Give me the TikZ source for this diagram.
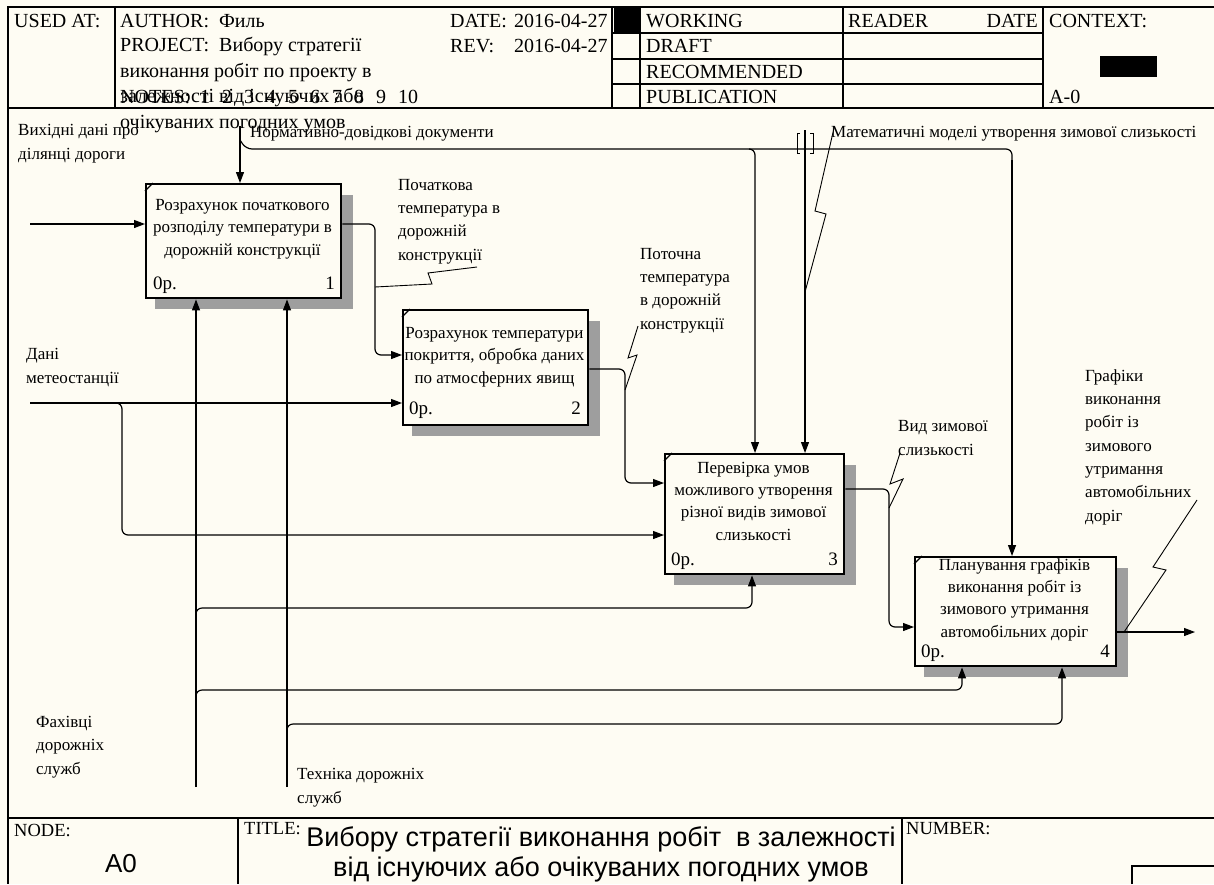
\documentclass[tikz,border=0pt]{standalone}
\usepackage{fontspec}
\setmainfont{Liberation Serif}
\newfontfamily\arialf{Liberation Sans}
\usetikzlibrary{arrows.meta}
\definecolor{bgc}{RGB}{254,252,243}
\begin{document}
\begin{tikzpicture}[x=1pt,y=-1pt,
 frame/.style={line width=1.4pt},
 conn/.style={line width=1.2pt, rounded corners=6pt},
 arr/.style={conn, -{Triangle[length=11pt,width=8pt]}},
 lead/.style={line width=0.9pt},
 box/.style={draw, line width=2.4pt, fill=bgc, rectangle, inner sep=0, anchor=north west},
 shad/.style={fill=black!38},
 tick/.style={line width=1.3pt},
 lbl/.style={font=\fontsize{17}{23.3}\selectfont, align=left, anchor=base west, inner sep=0},
 btxt/.style={font=\fontsize{17}{22.3}\selectfont, align=center, anchor=base, inner sep=0},
 bnum/.style={font=\fontsize{19}{22}\selectfont, inner sep=0},
 hdr/.style={font=\fontsize{20}{25.5}\selectfont, anchor=base west, inner sep=0, align=left},
 small/.style={font=\fontsize{18.5}{20}\selectfont, anchor=base west, inner sep=0},
]
\useasboundingbox (0,0) rectangle (1214,884);
\fill[bgc] (0,0) rectangle (1214,884);
% ---- frame ----
\draw[frame] (1214,7) -- (8,7) -- (8,884);
\draw[frame] (8,108) -- (1214,108);
\draw[frame] (8,818) -- (1214,818);
\draw[frame] (115,7) -- (115,108);
\draw[frame] (612,7) -- (612,108);
\draw[frame] (640,7) -- (640,108);
\draw[frame] (843,7) -- (843,108);
\draw[frame] (1043,7) -- (1043,108);
\draw[frame] (612,33) -- (1043,33);
\draw[frame] (612,59) -- (1043,59);
\draw[frame] (612,84) -- (1043,84);
\draw[frame] (238,818) -- (238,884);
\draw[frame] (902,818) -- (902,884);
\draw[frame] (1132,884) -- (1132,866) -- (1214,866);
\fill[black] (614,8) rectangle (640,33);
\fill[black] (1100,56) rectangle (1157,77);
% ---- header text ----
\node[hdr] (usedat) at (14,27) {USED AT:};
\node[hdr] (author) at (120,27) {AUTHOR:\ \ Филь};
\node[hdr] (project) at (120,128) {PROJECT:\ \ Вибору стратегії\\виконання робіт по проекту в\\залежності від існуючих або\\очікуваних погодних умов};
\node[hdr] (notes) at (120,103) {NOTES:\hspace{10pt}1\hspace{12pt}2\hspace{12pt}3\hspace{12pt}4\hspace{12pt}5\hspace{12pt}6\hspace{12pt}7\hspace{12pt}8\hspace{12pt}9\hspace{12pt}10};
\node[hdr] (date) at (450,27) {DATE:};
\node[hdr] (dateval) at (514,27) {2016-04-27};
\node[hdr] (rev) at (450,52) {REV:};
\node[hdr] (revval) at (514,52) {2016-04-27};
\node[hdr] (working) at (646,27) {WORKING};
\node[hdr] (draft) at (646,52) {DRAFT};
\node[hdr] (recom) at (646,78) {RECOMMENDED};
\node[hdr] (publ) at (646,103) {PUBLICATION};
\node[hdr] (reader) at (848,27) {READER};
\node[hdr, anchor=base east] (rdate) at (1038,27) {DATE};
\node[hdr] (context) at (1049,27) {CONTEXT:};
\node[hdr] (azero) at (1049,103) {A-0};
% ---- bottom ----
\node[small] (nodel) at (14,836) {NODE:};
\node[font=\arialf\fontsize{26}{30}\selectfont, anchor=base, inner sep=0] (nodeval) at (121,872) {A0};
\node[small] (titlel) at (244,834) {TITLE:};
\node[font=\arialf\fontsize{27}{30}\selectfont, align=center, anchor=base, inner sep=0] (title) at (601,876) {Вибору стратегії виконання робіт\ \ в залежності\\від існуючих або очікуваних погодних умов};
\node[small] (numberl) at (906,834) {NUMBER:};
% ---- shadows ----
\fill[shad] (155,195) rectangle (353,309);
\fill[shad] (412,321) rectangle (600,436);
\fill[shad] (674,465) rectangle (856,585);
\fill[shad] (924,568) rectangle (1128,677);
% ---- boxes ----
\node[box, minimum width=195pt, minimum height=114pt] (b1) at (145,183) {};
\node[box, minimum width=185pt, minimum height=115pt] (b2) at (402,309) {};
\node[box, minimum width=179pt, minimum height=120pt] (b3) at (664,453) {};
\node[box, minimum width=201pt, minimum height=109pt] (b4) at (914,556) {};
\foreach \b in {b1,b2,b3,b4}{
  \draw[tick] ([yshift=-8pt]\b.north west) -- ([xshift=8pt]\b.north west);
}
\node[btxt] (b1t) at (242.5,255) {Розрахунок початкового\\розподілу температури в\\дорожній конструкції};
\node[bnum, anchor=base west] (b1o) at (153,289) {0р.};
\node[bnum, anchor=base east] (b1n) at (335,289) {1};
\node[btxt] (b2t) at (494.5,383) {Розрахунок температури\\покриття, обробка даних\\по атмосферних явищ};
\node[bnum, anchor=base west] (b2o) at (409,414) {0р.};
\node[bnum, anchor=base east] (b2n) at (581,414) {2};
\node[btxt] (b3t) at (753.5,540) {Перевірка умов\\можливого утворення\\різної видів зимової\\слизькості};
\node[bnum, anchor=base west] (b3o) at (671,565) {0р.};
\node[bnum, anchor=base east] (b3n) at (838,565) {3};
\node[btxt] (b4t) at (1014.5,637) {Планування графіків\\виконання робіт із\\зимового утримання\\автомобільних доріг};
\node[bnum, anchor=base west] (b4o) at (921,657) {0р.};
\node[bnum, anchor=base east] (b4n) at (1110,657) {4};
% ---- labels ----
\node[lbl] (l1) at (18,159) {Вихідні дані про\\ділянці дороги};
\node[lbl] (l2) at (250,137) {Нормативно-довідкові документи};
\node[lbl] (l3) at (831,137) {Математичні моделі утворення зимової слизькості};
\node[lbl] (l4) at (398,260) {Початкова\\температура в\\дорожній\\конструкції};
\node[lbl] (l5) at (640,329) {Поточна\\температура\\в дорожній\\конструкції};
\node[lbl] (l6) at (26,383) {Дані\\метеостанції};
\node[lbl] (l7) at (898,455) {Вид зимової\\слизькості};
\node[lbl] (l8) at (1085,521) {Графіки\\виконання\\робіт із\\зимового\\утримання\\автомобільних\\доріг};
\node[lbl] (l9) at (36,774) {Фахівці\\дорожніх\\служб};
\node[lbl] (l10) at (297,803) {Техніка дорожніх\\служб};
% ---- coordinates ----
\coordinate (in1) at (30,224);
\coordinate (in2) at (30,403);
\coordinate (c1) at (240,126);
\coordinate (c2) at (805,130);
\coordinate (m1) at (196,787);
\coordinate (m2) at (287,787);
\coordinate (out4) at (1195,632);
% ---- connectors ----
\draw[arr] (in1) -- (b1.west |- in1);
\draw[arr] (c1) -- (c1 |- b1.north);
\draw[conn] (240,140) -- (246,149) -- (1012,149) -- (1012,170);
\draw[arr] (749,149) -- (755,149) -- (755,0 |- b3.north);
\draw[arr] (1012,160) -- (1012,0 |- b4.north);
\draw[arr] (c2) -- (c2 |- b3.north);
\draw[lead] (800,133) -- (797,133) -- (797,153) -- (800,153);
\draw[lead] (810,133) -- (813,133) -- (813,153) -- (810,153);
\draw[arr] (b1.east |- 0,224) -- (375,224) -- (375,355) -- (b2.west |- 0,355);
\draw[arr] (in2) -- (b2.west |- in2);
\draw[arr] (116,403) -- (122,403) -- (122,535) -- (b3.west |- 0,535);
\draw[arr] (b2.east |- 0,369) -- (625,369) -- (625,483) -- (b3.west |- 0,483);
\draw[arr] (b3.east |- 0,489) -- (889,489) -- (889,627) -- (b4.west |- 0,627);
\draw[arr] (b4.east |- out4) -- (out4);
\draw[arr] (m1) -- (m1 |- b1.south);
\draw[arr] (m2) -- (m2 |- b1.south);
\draw[arr] (196,620) -- (196,608) -- (752,608) -- (752,0 |- b3.south);
\draw[arr] (196,702) -- (196,690) -- (962,690) -- (962,0 |- b4.south);
\draw[arr] (287,736) -- (287,724) -- (1062,724) -- (1062,0 |- b4.south);
% ---- squiggle leaders ----
\draw[lead] (477,267) -- (428,273) -- (432,284) -- (375,287);
\draw[lead] (638,326) -- (628,358) -- (637,355) -- (625,390);
\draw[lead] (834,128) -- (815,211) -- (826,214) -- (805,292);
\draw[lead] (900,453) -- (890,484) -- (903,479) -- (889,508);
\draw[lead] (1197,500) -- (1153,567) -- (1166,570) -- (1124,632);
\end{tikzpicture}
\end{document}
